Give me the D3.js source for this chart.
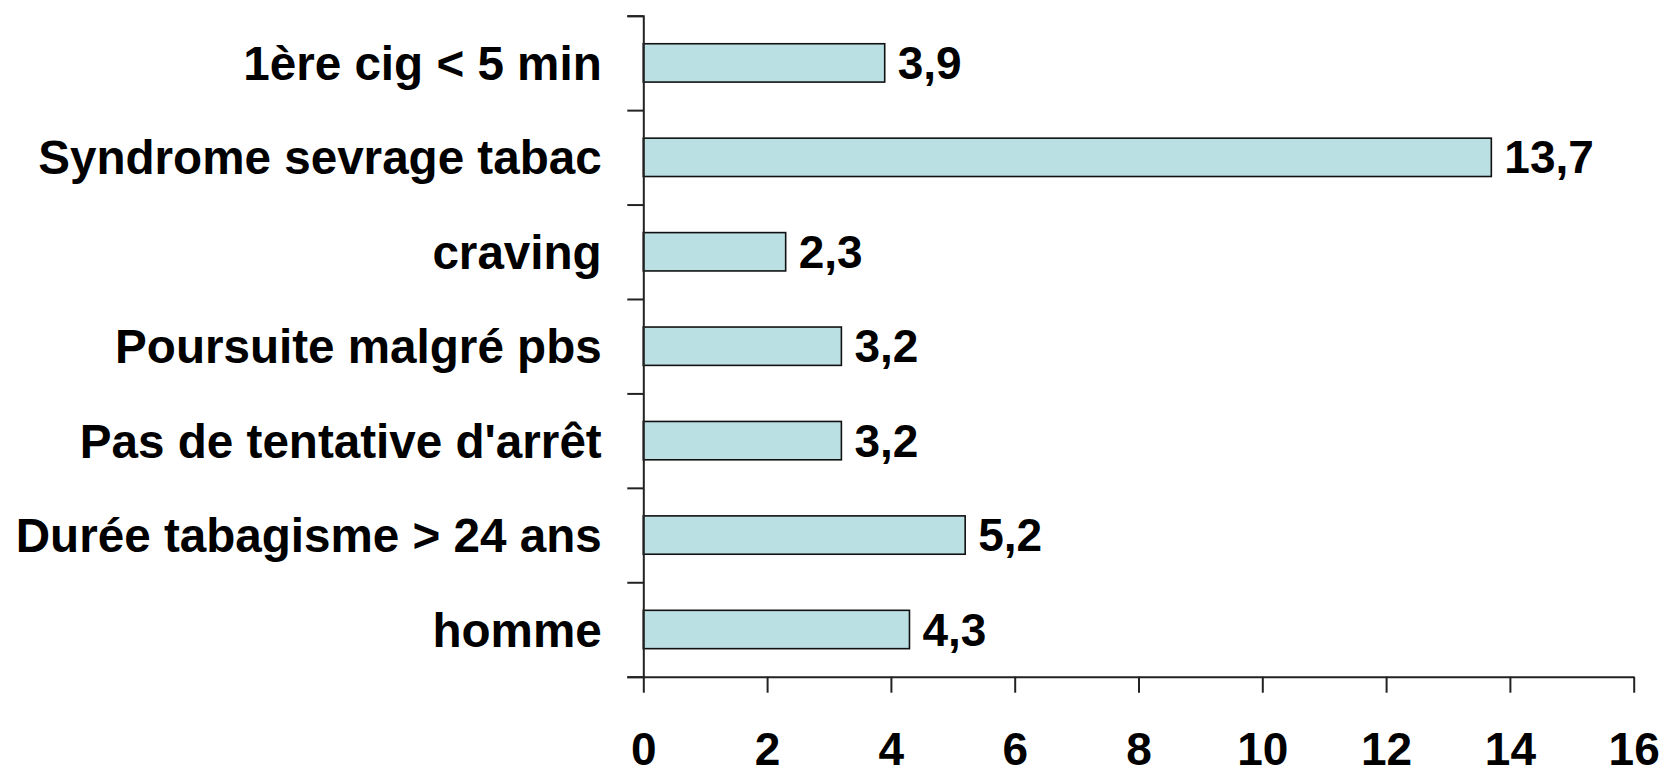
<!DOCTYPE html>
<html>
<head>
<meta charset="utf-8">
<script src="https://cdn.jsdelivr.net/npm/d3@7"></script>
<style>
  body { margin: 0; background: #fff; }
  text { font-family: "Liberation Sans", Arial, sans-serif; font-weight: bold; fill: #000; }
</style>
</head>
<body>
<div id="chartArea"></div>
<script>
const categories = [
  '1ère cig < 5 min',
  'Syndrome sevrage tabac',
  'craving',
  'Poursuite malgré pbs',
  "Pas de tentative d'arrêt",
  'Durée tabagisme > 24 ans',
  'homme'
];
const values = [3.9, 13.7, 2.3, 3.2, 3.2, 5.2, 4.3];
const valueLabels = ['3,9', '13,7', '2,3', '3,2', '3,2', '5,2', '4,3'];
const xTicks = [0, 2, 4, 6, 8, 10, 12, 14, 16];

const width = 1664;
const height = 771;
const margin = { top: 15.7, left: 643.3, bottom: 94.3, right: 30.3 };
const iwidth = width - margin.left - margin.right;
const iheight = height - margin.top - margin.bottom;

const svg = d3.select('#chartArea').append('svg')
  .attr('width', width)
  .attr('height', height);

const g = svg.append('g')
  .attr('transform', `translate(${margin.left},${margin.top})`);

const x = d3.scaleLinear().domain([0, 16]).range([0, iwidth]);

const y = d3.scaleBand()
  .domain(categories)
  .range([0, iheight])
  .paddingInner(0.594)
  .paddingOuter(0.297);

// boundaries between categories, for the y ticks
const yb = d3.scaleLinear().domain([0, categories.length]).range([0, iheight]);

// Draw-bars
g.selectAll('rect.bar')
  .data(categories)
  .enter()
  .append('rect')
  .attr('class', 'bar')
  .attr('x', x(0))
  .attr('y', (d) => y(d))
  .attr('width', (d, i) => x(values[i]) - x(0))
  .attr('height', y.bandwidth())
  .style('fill', '#bbe0e3')
  .style('stroke', '#111')
  .style('stroke-width', 1.6);

// value labels
g.selectAll('text.val')
  .data(categories)
  .enter()
  .append('text')
  .attr('class', 'val')
  .attr('x', (d, i) => x(values[i]) + 13)
  .attr('y', (d) => y(d) + y.bandwidth() / 2)
  .attr('dy', '0.35em')
  .style('font-size', '46px')
  .text((d, i) => valueLabels[i]);

// category labels
g.selectAll('text.cat')
  .data(categories)
  .enter()
  .append('text')
  .attr('class', 'cat')
  .attr('x', -41.6)
  .attr('y', (d) => y(d) + y.bandwidth() / 2)
  .attr('dy', '0.36em')
  .attr('text-anchor', 'end')
  .style('font-size', '47.6px')
  .text((d) => d);

// Y-Axis
const yAxis = g.append('g').call(
  d3.axisLeft(yb)
    .tickValues(d3.range(categories.length + 1))
    .tickFormat('')
    .tickSize(16)
    .tickSizeOuter(16)
);

// X-Axis
const xAxis = g.append('g')
  .attr('transform', `translate(0,${iheight})`)
  .call(
    d3.axisBottom(x)
      .tickValues(xTicks)
      .tickSize(16)
      .tickSizeOuter(0)
      .tickPadding(40)
  );

xAxis.selectAll('text')
  .style('font-size', '46px')
  .style('font-family', '"Liberation Sans", Arial, sans-serif')
  .style('font-weight', 'bold')
  .attr('fill', '#000');

[yAxis, xAxis].forEach((a) => {
  a.selectAll('path, line')
    .attr('stroke', '#222')
    .attr('stroke-width', 2);
});
</script>
</body>
</html>
